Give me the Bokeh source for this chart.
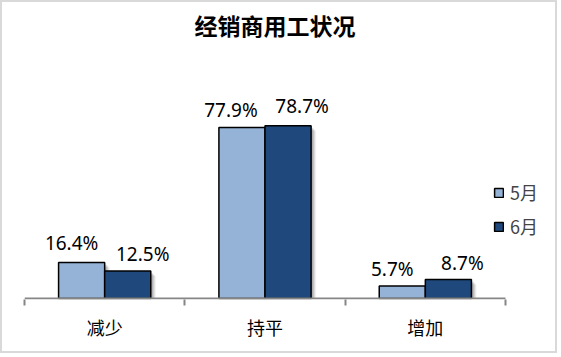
from bokeh.plotting import figure
from bokeh.models import FixedTicker, Range1d, ColumnDataSource, Legend, LegendItem
from bokeh.core.properties import value
from bokeh.embed import file_html
from bokeh.resources import INLINE

title_text = "经销商用工状况"
categories = ["减少", "持平", "增加"]
may = [16.4, 77.9, 5.7]
june = [12.5, 78.7, 8.7]
series_names = ["5月", "6月"]

# label nudges in pixels (dx, gap between digits and bar top)
may_dx = [-10, -11, -10]
may_gap = [12, 10, 9]
jun_dx = [15, 14, 14]
jun_gap = [9, 12, 8]
DESCENT = 5

FONT = "Noto Sans CJK SC"
NUMFONT = "Noto Sans"
C_MAY = "#95B3D7"
C_JUN = "#1F497D"

W, H = 557, 353
BL, BB = 22, 56
FW = 521            # frame width in px
FH = H - BB         # frame height in px (frame reaches the top)
px = 3 / 481.0      # data units per px (x)
PY = 2.195          # px per data unit (y)
y0 = -1 / PY
p = figure(width=W, height=H, output_backend="svg", toolbar_location=None,
           x_range=Range1d(0, FW * px), y_range=Range1d(y0, y0 + FH / PY),
           min_border_left=BL, min_border_right=W - BL - FW, min_border_top=0, min_border_bottom=BB)
p.styles = {"border": "2px solid #d9d9d9"}
p.outline_line_color = None
p.xgrid.visible = False
p.ygrid.visible = False
p.yaxis.visible = False
p.background_fill_color = "white"
p.border_fill_color = "white"

# title (page pixel centre 274.5, 24.5)
tx = (274.5 - 2 - BL) * px
ty = y0 + (FH - (24.5 - 2)) / PY
p.text(x=[tx], y=[ty], text=[title_text], text_align="center", text_baseline="middle",
       text_font=value(FONT), text_font_size="23px", text_font_style="bold", text_color="black")

centers = [i + 0.5 for i in range(len(categories))]
bw = 0.2875
x_may = [c - bw / 2 for c in centers]
x_jun = [c + bw / 2 for c in centers]

src = ColumnDataSource(dict(x_may=x_may, x_jun=x_jun, may=may, june=june,
                            lab_may=[f"{v:.1f}%" for v in may],
                            lab_jun=[f"{v:.1f}%" for v in june],
                            may_dx=may_dx, may_gy=[-(g - DESCENT) for g in may_gap],
                            jun_dx=jun_dx, jun_gy=[-(g - DESCENT) for g in jun_gap]))

# soft shadows
for k, a in [(5, 0.06), (4, 0.08), (3, 0.1), (2, 0.12)]:
    p.vbar(x=[x + k * px for x in x_jun], top=[v - k / PY for v in june], width=bw,
           fill_color="black", fill_alpha=a, line_color=None)
    p.vbar(x=[x + k * px for x in x_may], top=[v - k / PY for v in may], width=bw,
           fill_color="black", fill_alpha=a, line_color=None)

r1 = p.vbar(x="x_may", top="may", width=bw, source=src, fill_color=C_MAY,
            line_color="black", line_width=1.5)
r2 = p.vbar(x="x_jun", top="june", width=bw, source=src, fill_color=C_JUN,
            line_color="black", line_width=1.5)

# axis baseline
p.segment(x0=[0], y0=[0], x1=[3], y1=[0], line_color="#868686", line_width=2)

p.text(x="x_may", y="may", text="lab_may", source=src, text_align="center",
       text_baseline="bottom", x_offset="may_dx", y_offset="may_gy",
       text_font=value(NUMFONT), text_font_size="19px", text_color="black")
p.text(x="x_jun", y="june", text="lab_jun", source=src, text_align="center",
       text_baseline="bottom", x_offset="jun_dx", y_offset="jun_gy",
       text_font=value(NUMFONT), text_font_size="19px", text_color="black")

ax = p.xaxis[0]
ax.ticker = FixedTicker(ticks=centers, minor_ticks=[0, 1, 2, 3])
ax.major_label_overrides = {c: n for c, n in zip(centers, categories)}
ax.major_tick_out = 0
ax.major_tick_in = 0
ax.minor_tick_out = 6
ax.minor_tick_in = 0
ax.minor_tick_line_color = "#868686"
ax.minor_tick_line_width = 2
ax.axis_line_color = None
ax.major_label_text_font = FONT
ax.major_label_text_font_size = "18px"
ax.major_label_text_color = "black"
ax.major_label_standoff = 8

legend = Legend(items=[LegendItem(label=series_names[0], renderers=[r1]),
                       LegendItem(label=series_names[1], renderers=[r2])],
                location=(469, 60), background_fill_alpha=0, border_line_color=None,
                glyph_width=11, glyph_height=11, spacing=8, padding=0, margin=0,
                label_text_font=FONT, label_text_font_size="18px", label_standoff=6,
                label_height=20)
p.add_layout(legend)

open("out.html", "w").write(file_html(p, INLINE))
